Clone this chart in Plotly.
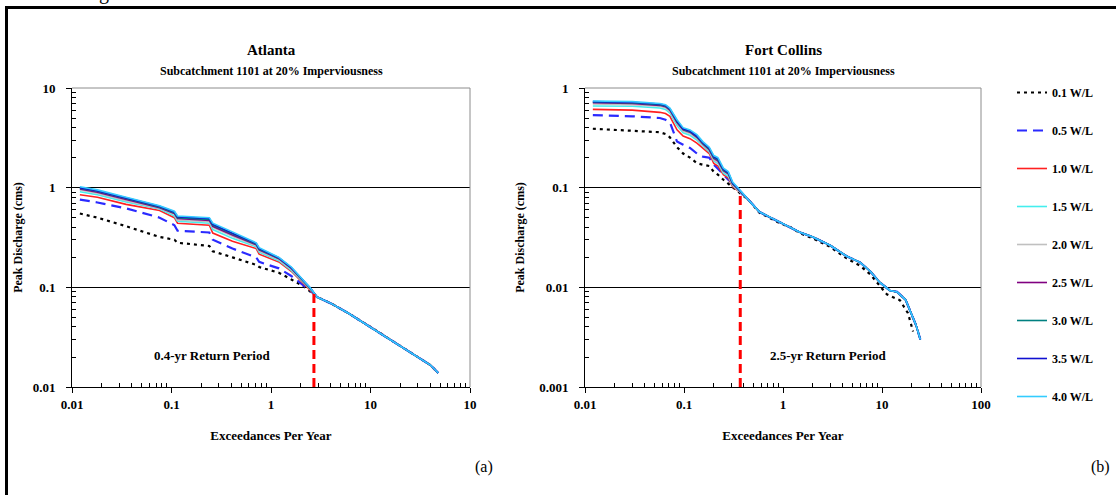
import plotly.graph_objects as go

# ---------------- data ----------------
SERIES = ["0.1 W/L", "0.5 W/L", "1.0 W/L", "1.5 W/L", "2.0 W/L",
          "2.5 W/L", "3.0 W/L", "3.5 W/L", "4.0 W/L"]
COLORS = ["#000000", "#2a2aff", "#ff2020", "#44eeee", "#c0c0c0",
          "#800080", "#008080", "#1010d0", "#33ccff"]
DASHES = ["3px,4px", "10px,6px", "solid", "solid", "solid", "solid", "solid", "solid", "solid"]

# Atlanta (a): head section where the curves differ
ATL_X = [0.012, 0.018, 0.035, 0.076, 0.107, 0.115, 0.24, 0.26, 0.41, 0.71, 0.76, 1.2, 1.6, 2.2, 2.5]
ATL_01 = [0.55, 0.50, 0.41, 0.32, 0.30, 0.28, 0.26, 0.23, 0.20, 0.168, 0.16, 0.14, 0.12, 0.10, 0.09]
ATL_05 = [0.76, 0.71, 0.62, 0.50, 0.42, 0.37, 0.355, 0.30, 0.245, 0.20, 0.18, 0.155, 0.13, 0.102, 0.092]
ATL_10 = [0.85, 0.80, 0.68, 0.59, 0.50, 0.44, 0.42, 0.35, 0.29, 0.245, 0.215, 0.18, 0.145, 0.106, 0.094]
ATL_15 = [0.91, 0.85, 0.72, 0.61, 0.52, 0.46, 0.44, 0.38, 0.31, 0.255, 0.225, 0.185, 0.148, 0.108, 0.095]
ATL_20 = [0.95, 0.88, 0.74, 0.62, 0.54, 0.475, 0.455, 0.40, 0.325, 0.262, 0.232, 0.19, 0.152, 0.109, 0.096]
ATL_25 = [0.97, 0.90, 0.76, 0.63, 0.55, 0.49, 0.47, 0.41, 0.335, 0.268, 0.238, 0.194, 0.155, 0.110, 0.097]
ATL_30 = [0.99, 0.92, 0.78, 0.64, 0.56, 0.50, 0.48, 0.42, 0.345, 0.272, 0.242, 0.196, 0.157, 0.111, 0.097]
ATL_35 = [1.00, 0.93, 0.79, 0.65, 0.57, 0.51, 0.49, 0.43, 0.35, 0.276, 0.246, 0.198, 0.158, 0.112, 0.098]
ATL_40 = [1.02, 0.95, 0.80, 0.66, 0.58, 0.52, 0.50, 0.44, 0.36, 0.28, 0.25, 0.20, 0.16, 0.113, 0.098]
# Atlanta: common tail (all widths coincide)
ATL_TAIL_X = [2.9, 4, 6, 10, 15, 22, 30, 40, 48]
ATL_TAIL_Y = [0.08, 0.069, 0.055, 0.04, 0.031, 0.0245, 0.02, 0.0166, 0.0138]

# Fort Collins (b): head section
FC_X = [0.012, 0.03, 0.057, 0.065, 0.072, 0.085, 0.098, 0.115, 0.135, 0.155, 0.18,
        0.2, 0.22, 0.25, 0.28, 0.31, 0.35, 0.39]
FC_01 = [0.39, 0.375, 0.36, 0.345, 0.32, 0.255, 0.22, 0.20, 0.176, 0.17, 0.165, 0.144, 0.135, 0.12, 0.11, 0.10, 0.092, 0.085]
FC_05 = [0.535, 0.52, 0.50, 0.48, 0.455, 0.29, 0.27, 0.25, 0.22, 0.205, 0.20, 0.17, 0.155, 0.134, 0.12, 0.11, 0.095, 0.085]
FC_10 = [0.61, 0.60, 0.57, 0.555, 0.52, 0.38, 0.33, 0.31, 0.28, 0.25, 0.22, 0.175, 0.165, 0.135, 0.125, 0.102, 0.094, 0.086]
FC_15 = [0.66, 0.655, 0.63, 0.61, 0.56, 0.42, 0.355, 0.335, 0.30, 0.26, 0.228, 0.185, 0.175, 0.14, 0.13, 0.105, 0.095, 0.086]
FC_20 = [0.69, 0.68, 0.655, 0.635, 0.58, 0.44, 0.37, 0.35, 0.31, 0.268, 0.235, 0.19, 0.18, 0.145, 0.135, 0.107, 0.096, 0.087]
FC_25 = [0.71, 0.70, 0.67, 0.65, 0.60, 0.45, 0.38, 0.36, 0.32, 0.275, 0.24, 0.197, 0.186, 0.148, 0.138, 0.109, 0.097, 0.087]
FC_30 = [0.72, 0.71, 0.68, 0.66, 0.61, 0.46, 0.385, 0.365, 0.325, 0.28, 0.245, 0.20, 0.19, 0.15, 0.14, 0.11, 0.098, 0.087]
FC_35 = [0.73, 0.72, 0.69, 0.67, 0.62, 0.47, 0.39, 0.37, 0.33, 0.285, 0.25, 0.205, 0.195, 0.153, 0.142, 0.112, 0.099, 0.088]
FC_40 = [0.74, 0.73, 0.70, 0.68, 0.63, 0.48, 0.40, 0.38, 0.34, 0.29, 0.255, 0.21, 0.20, 0.157, 0.145, 0.114, 0.10, 0.088]
# Fort Collins tails
FC_TAIL_X = [0.45, 0.58, 0.75, 0.93, 1.2, 1.48, 2.0, 2.98, 4.4, 6.0, 7.6, 9.5, 12.0, 14.2, 17.3, 19.8, 22, 24.4]
FC_TAIL_HIGH = [0.075, 0.057, 0.05, 0.045, 0.04, 0.0357, 0.032, 0.0264, 0.0205, 0.0178, 0.0145, 0.0112,
                0.0093, 0.009, 0.0075, 0.0055, 0.0042, 0.003]
FC_TAIL_LOW_X = [0.45, 0.58, 0.75, 0.93, 1.2, 1.48, 2.0, 2.98, 4.4, 6.0, 7.6, 9.5, 11.2, 15.2, 18.3, 20.6]
FC_TAIL_LOW = [0.075, 0.056, 0.049, 0.044, 0.04, 0.035, 0.031, 0.0255, 0.0195, 0.0165, 0.0135, 0.0105,
               0.0085, 0.0074, 0.0055, 0.0036]

ATL_HEADS = [ATL_01, ATL_05, ATL_10, ATL_15, ATL_20, ATL_25, ATL_30, ATL_35, ATL_40]
FC_HEADS = [FC_01, FC_05, FC_10, FC_15, FC_20, FC_25, FC_30, FC_35, FC_40]

# Return period markers
RP_ATL_X = [2.7, 2.7]
RP_ATL_Y = [0.01, 0.088]
RP_FC_X = [0.37, 0.37]
RP_FC_Y = [0.001, 0.092]

ATL_XTICKS = [0.01, 0.1, 1, 10, 100]
ATL_XTEXT = ["0.01", "0.1", "1", "10", "10"]
ATL_YTICKS = [0.01, 0.1, 1, 10]
ATL_YTEXT = ["0.01", "0.1", "1", "10"]
FC_XTICKS = [0.01, 0.1, 1, 10, 100]
FC_XTEXT = ["0.01", "0.1", "1", "10", "100"]
FC_YTICKS = [0.001, 0.01, 0.1, 1]
FC_YTEXT = ["0.001", "0.01", "0.1", "1"]

# ---------------- figure ----------------
W, H = 1116, 495
SERIF = "Liberation Serif"


def bfont(size):
    return dict(family=SERIF, size=size, color="black", weight="bold")


fig = go.Figure()

for i, name in enumerate(SERIES):
    lw = 2.2 if DASHES[i] != "solid" else 1.6
    fig.add_trace(go.Scatter(
        x=ATL_X + ATL_TAIL_X, y=ATL_HEADS[i] + ATL_TAIL_Y,
        mode="lines", name=name, legendgroup=name, showlegend=True,
        line=dict(color=COLORS[i], width=lw, dash=DASHES[i]),
        xaxis="x", yaxis="y"))

for i, name in enumerate(SERIES):
    lw = 2.2 if DASHES[i] != "solid" else 1.6
    if i == 0:
        tx, ty = FC_TAIL_LOW_X, FC_TAIL_LOW
    else:
        tx, ty = FC_TAIL_X, FC_TAIL_HIGH
    fig.add_trace(go.Scatter(
        x=FC_X + tx, y=FC_HEADS[i] + ty,
        mode="lines", name=name, legendgroup=name, showlegend=False,
        line=dict(color=COLORS[i], width=lw, dash=DASHES[i]),
        xaxis="x2", yaxis="y2"))

fig.add_trace(go.Scatter(x=RP_ATL_X, y=RP_ATL_Y, mode="lines", showlegend=False,
                         line=dict(color="#ff0000", width=3, dash="9px,5px"),
                         xaxis="x", yaxis="y"))
fig.add_trace(go.Scatter(x=RP_FC_X, y=RP_FC_Y, mode="lines", showlegend=False,
                         line=dict(color="#ff0000", width=3, dash="9px,5px"),
                         xaxis="x2", yaxis="y2"))


def minor_vals(lo_exp, hi_exp):
    return [m * 10 ** e for e in range(lo_exp, hi_exp) for m in range(2, 10)]


def xaxis_cfg(domain, tickvals, ticktext, anchor):
    return dict(
        type="log", domain=domain, anchor=anchor,
        range=[-2, 2], tickmode="array", tickvals=tickvals, ticktext=ticktext,
        showline=True, linecolor="black", linewidth=1,
        ticks="outside", ticklen=5, tickcolor="black",
        minor=dict(ticks="inside", ticklen=4, tickcolor="black",
                   tickmode="array", tickvals=minor_vals(-2, 2), showgrid=False),
        showgrid=False, zeroline=False, automargin=False,
        tickfont=bfont(13),
        title=dict(text="Exceedances Per Year", font=bfont(13), standoff=20),
    )


def yaxis_cfg(domain, rng, tickvals, ticktext, anchor, lo, hi, standoff):
    return dict(
        type="log", domain=domain, anchor=anchor,
        range=rng, tickmode="array", tickvals=tickvals, ticktext=ticktext,
        showline=True, linecolor="black", linewidth=1,
        ticks="outside", ticklen=5, tickcolor="black", ticklabelstandoff=8,
        minor=dict(ticks="inside", ticklen=4, tickcolor="black",
                   tickmode="array", tickvals=minor_vals(lo, hi), showgrid=False),
        showgrid=True, gridcolor="black", gridwidth=1, zeroline=False, automargin=False,
        tickfont=bfont(13),
        title=dict(text="Peak Discharge (cms)", font=bfont(12), standoff=standoff),
    )


ydom = [1 - 387 / H, 1 - 88 / H]
fig.update_layout(
    width=W, height=H,
    margin=dict(l=0, r=0, t=0, b=0, autoexpand=False),
    paper_bgcolor="white", plot_bgcolor="white",
    font=dict(family=SERIF, color="black"),
    xaxis=xaxis_cfg([72 / W, 470 / W], ATL_XTICKS, ATL_XTEXT, "y"),
    yaxis=yaxis_cfg(ydom, [-2, 1], ATL_YTICKS, ATL_YTEXT, "x", -2, 1, 7),
    xaxis2=xaxis_cfg([585 / W, 981 / W], FC_XTICKS, FC_XTEXT, "y2"),
    yaxis2=yaxis_cfg(ydom, [-3, 0], FC_YTICKS, FC_YTEXT, "x2", -3, 0, 11),
    legend=dict(x=1012 / W, xanchor="left", y=1 - 78 / H, yanchor="top",
                font=bfont(12), bgcolor="rgba(0,0,0,0)",
                tracegroupgap=19, itemwidth=30),
    showlegend=True,
)

# plot-area frames (grey, top and right) like the original spreadsheet charts
for xr, yr in (("x domain", "y domain"), ("x2 domain", "y2 domain")):
    fig.add_shape(type="line", xref=xr, yref=yr, x0=0, x1=1, y0=1, y1=1,
                  line=dict(color="#8c8c8c", width=1), layer="above")
    fig.add_shape(type="line", xref=xr, yref=yr, x0=1, x1=1, y0=0, y1=1,
                  line=dict(color="#8c8c8c", width=1), layer="above")

# outer figure border (black, left and top)
fig.add_shape(type="line", xref="paper", yref="paper", x0=6.5 / W, x1=6.5 / W,
              y0=0, y1=1 - 6 / H, line=dict(color="black", width=3))
fig.add_shape(type="line", xref="paper", yref="paper", x0=5 / W, x1=1,
              y0=1 - 7.5 / H, y1=1 - 7.5 / H, line=dict(color="black", width=3))

ann = [
    dict(text="Atlanta", xref="x domain", yref="paper", x=0.5, y=1 - 50 / H,
         font=bfont(15)),
    dict(text="Subcatchment 1101 at 20% Imperviousness", xref="x domain", yref="paper",
         x=0.5, y=1 - 71 / H, font=bfont(12)),
    dict(text="Fort Collins", xref="x2 domain", yref="paper", x=0.5, y=1 - 50 / H,
         font=bfont(15)),
    dict(text="Subcatchment 1101 at 20% Imperviousness", xref="x2 domain", yref="paper",
         x=0.5, y=1 - 71 / H, font=bfont(12)),
    dict(text="0.4-yr Return Period", xref="paper", yref="paper", x=212 / W, y=1 - 355 / H,
         font=bfont(13)),
    dict(text="2.5-yr Return Period", xref="paper", yref="paper", x=828 / W, y=1 - 355 / H,
         font=bfont(13)),
    dict(text="(a)", xref="paper", yref="paper", x=484 / W, y=1 - 467 / H,
         font=dict(size=16, family=SERIF, color="black")),
    dict(text="(b)", xref="paper", yref="paper", x=1100 / W, y=1 - 467 / H,
         font=dict(size=16, family=SERIF, color="black")),
    dict(text="g", xref="paper", yref="paper", x=104 / W, y=1 - 6 / H, yanchor="bottom",
         font=dict(size=20, family=SERIF, color="black")),
]
for a in ann:
    a.setdefault("showarrow", False)
    a.setdefault("xanchor", "center")
    a.setdefault("yanchor", "middle")
    fig.add_annotation(**a)

fig.write_html("out.html", config={"displayModeBar": False},
               post_script="document.body.style.margin='0';")
